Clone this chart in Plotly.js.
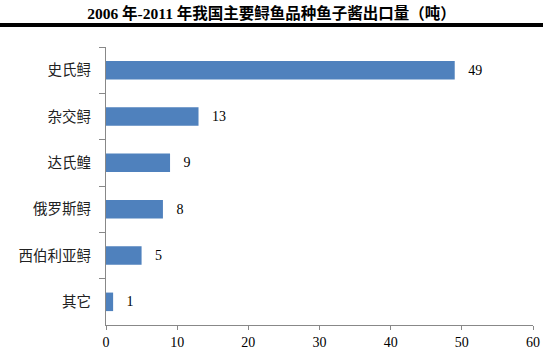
<!DOCTYPE html>
<html><head><meta charset="utf-8">
<script src="https://cdn.plot.ly/plotly-3.0.1.min.js"></script>
<style>html,body{margin:0;padding:0;background:#fff}#c{width:543px;height:361px}</style>
</head><body><div id="c"></div>
<script>
const categories = ["史氏鲟","杂交鲟","达氏鳇","俄罗斯鲟","西伯利亚鲟","其它"];
const values = [49, 13, 9, 8, 5, 1];
const titleText = "2006 年-2011 年我国主要鲟鱼品种鱼子酱出口量（吨）";

const W = 543, H = 361, L = 106, R = 10, T = 47, B = 36;
const pw = W - L - R, ph = H - T - B;

const trace = {
  type: "bar", orientation: "h",
  y: categories, x: values,
  marker: {color: "#4F81BD"},
  texttemplate: "\u00a0\u00a0\u00a0%{x}", textposition: "outside",
  textfont: {family: "Liberation Serif, Times New Roman, serif", size: 14, color: "#000"},
  cliponaxis: false, hoverinfo: "none"
};

const layout = {
  width: W, height: H,
  margin: {l: L, r: R, t: T, b: B, pad: 0},
  paper_bgcolor: "#fff", plot_bgcolor: "#fff",
  showlegend: false, bargap: 0.6,
  title: {text: "<b>" + titleText + "</b>", x: 0.5, xanchor: "center", y: 1 - 14/H, yanchor: "middle",
    font: {family: "Liberation Serif, Noto Sans CJK SC, serif", size: 15.5, color: "#000"}},
  xaxis: {range: [0, 60], dtick: 10, tick0: 0, showgrid: false, zeroline: false,
    showline: true, linecolor: "#888", linewidth: 1,
    ticks: "outside", ticklen: 4, tickcolor: "#888",
    tickfont: {family: "Liberation Serif, Times New Roman, serif", size: 14, color: "#000"}},
  yaxis: {type: "category", autorange: "reversed", showgrid: false, zeroline: false,
    showline: true, linecolor: "#888", linewidth: 1,
    ticks: "outside", ticklen: 6, tickcolor: "#888", tickson: "boundaries",
    ticklabelstandoff: 11,
    tickfont: {family: "Noto Sans CJK SC, sans-serif", size: 14.5, color: "#222"}},
  shapes: [{type: "line", xref: "paper", yref: "paper",
    x0: -L/pw, x1: 1 + R/pw, y0: 1 + (T-25)/ph, y1: 1 + (T-25)/ph,
    line: {color: "#000", width: 4}}]
};

Plotly.newPlot("c", [trace], layout, {displayModeBar: false, staticPlot: true});
</script></body></html>
